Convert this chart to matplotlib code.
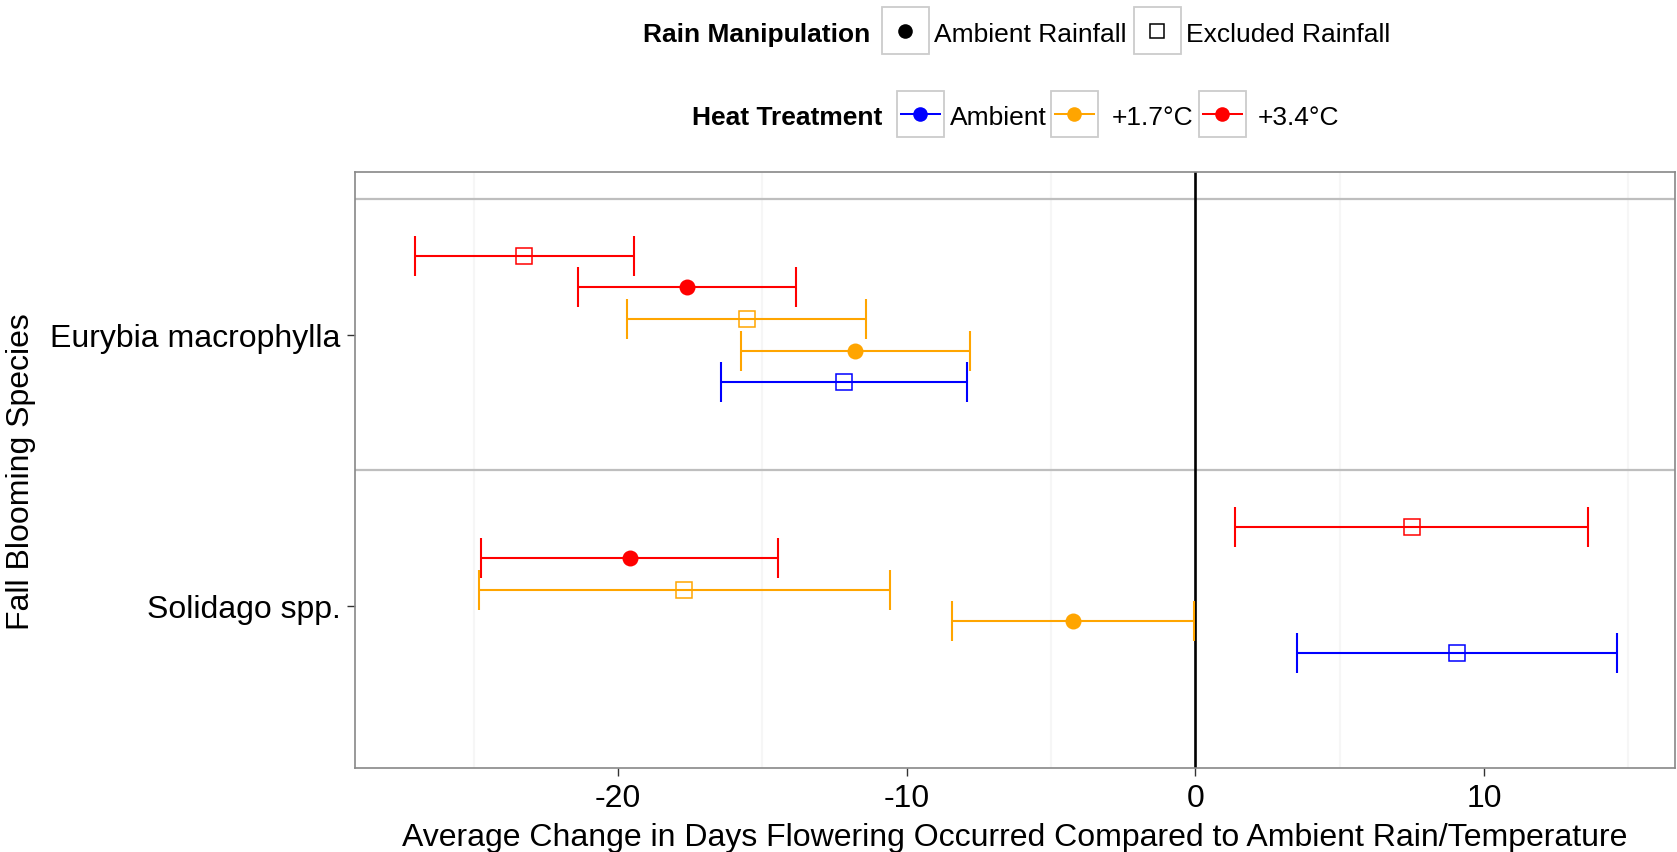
import matplotlib
matplotlib.use("Agg")
import matplotlib.pyplot as plt
from matplotlib.patches import Rectangle

plt.rcParams['font.family'] = ['Liberation Sans', 'DejaVu Sans']

# data: mean change in flowering day (+/- SE) per species x heat x rain
species = ["Eurybia macrophylla"] * 5 + ["Solidago spp."] * 5
heat = ["+3.4°C", "+3.4°C", "+1.7°C", "+1.7°C", "Ambient"] * 2
rain = ["Excluded Rainfall", "Ambient Rainfall", "Excluded Rainfall",
        "Ambient Rainfall", "Excluded Rainfall"] * 2
mean_change = [-23.24, -17.61, -15.53, -11.78, -12.17,
               7.50, -19.60, -17.70, -4.23, 9.07]
se_change = [3.78, 3.79, 4.14, 3.97, 4.26,
             6.11, 5.16, 7.13, 4.20, 5.54]

species_order = ["Solidago spp.", "Eurybia macrophylla"]
heat_levels = ["Ambient", "+1.7°C", "+3.4°C"]
heat_colors = ["#0000FF", "#FFA500", "#FF0000"]
rain_levels = ["Ambient Rainfall", "Excluded Rainfall"]
x_ticks = [-20, -10, 0, 10]

W, H = 1677, 853
fig = plt.figure(figsize=(W / 100, H / 100), dpi=100)

# main panel
left, right, top, bottom = 355.3, 1675.0, 173.3, 769.0
ax = fig.add_axes([left / W, 1 - bottom / H, (right - left) / W, (bottom - top) / H])

for x in [-25, -15, -5, 5, 15]:
    ax.axvline(x, color="#F6F6F6", lw=1.5, zorder=0)
for y in [1.5, 2.5]:
    ax.axhline(y, color="#BEBEBE", lw=1.6, zorder=1)
ax.axvline(0, color="black", lw=1.9, zorder=2)

dodge = 0.7
n_groups = len(heat_levels) * len(rain_levels)
for sp, ht, rn, m, se in zip(species, heat, rain, mean_change, se_change):
    hi = heat_levels.index(ht)
    ri = rain_levels.index(rn)
    idx = hi * len(rain_levels) + ri
    y = species_order.index(sp) + 1 + (idx - (n_groups - 1) / 2) * dodge / n_groups
    col = heat_colors[hi]
    ax.errorbar(m, y, xerr=se, fmt="none", ecolor=col, elinewidth=1.5,
                capsize=14.6, capthick=1.5, zorder=3)
    if ri == 0:
        ax.plot(m, y, marker="o", ms=11.5, mfc=col, mec=col, mew=0, zorder=4)
    else:
        ax.plot(m, y, marker="s", ms=11, mfc="none", mec=col, mew=1.1, zorder=4)

ax.set_xlim(-29.1, 16.62)
ax.set_ylim(0.4, 2.6)
ax.set_xticks(x_ticks)
ax.set_xticklabels([str(t) for t in x_ticks])
ax.set_yticks([1, 2])
ax.set_yticklabels(species_order)
ax.tick_params(axis="both", length=5.5, width=1.0, color="#333333",
               labelsize=23, labelcolor="black", pad=5)
for s in ax.spines.values():
    s.set_color("#888888")
    s.set_linewidth(1.2)
ax.set_xlabel("Average Change in Days Flowering Occurred Compared to Ambient Rain/Temperature",
              fontsize=23, labelpad=7)
ax.set_ylabel("Fall Blooming Species", fontsize=23, labelpad=10)

# legends drawn in pixel coords on an overlay
lax = fig.add_axes([0, 0, 1, 1])
lax.set_xlim(0, W)
lax.set_ylim(H, 0)
lax.axis("off")
lax.patch.set_visible(False)

box = 46.7
fs = 19
txt_shift = 3

# Rain Manipulation row
cy = 31.7
lax.text(643, cy + txt_shift, "Rain Manipulation", fontsize=fs, fontweight="bold", va="center", ha="left")
for bx, tx, rn in zip([882, 1134], [934, 1186], rain_levels):
    lax.add_patch(Rectangle((bx, cy - box / 2), box, box, fc="white", ec="#CCCCCC", lw=1.3))
    if rn == "Ambient Rainfall":
        lax.plot(bx + box / 2, cy, marker="o", ms=10.5, mfc="black", mec="black", mew=0)
    else:
        lax.plot(bx + box / 2, cy, marker="s", ms=9.5, mfc="none", mec="black", mew=1.1)
    lax.text(tx, cy + txt_shift, rn, fontsize=fs, va="center", ha="left")

# Heat Treatment row
cy = 115
lax.text(692, cy + txt_shift, "Heat Treatment", fontsize=fs, fontweight="bold", va="center", ha="left")
for bx, tx, ht, col in zip([897, 1051, 1199], [950, 1112, 1258], heat_levels, heat_colors):
    lax.add_patch(Rectangle((bx, cy - box / 2), box, box, fc="white", ec="#CCCCCC", lw=1.3))
    lax.plot([bx + 4, bx + box - 4], [cy, cy], color=col, lw=1.45)
    lax.plot(bx + box / 2, cy, marker="o", ms=10.5, mfc=col, mec=col, mew=0)
    lax.text(tx, cy + txt_shift, ht, fontsize=fs, va="center", ha="left")

fig.savefig("out.png", dpi=100)
